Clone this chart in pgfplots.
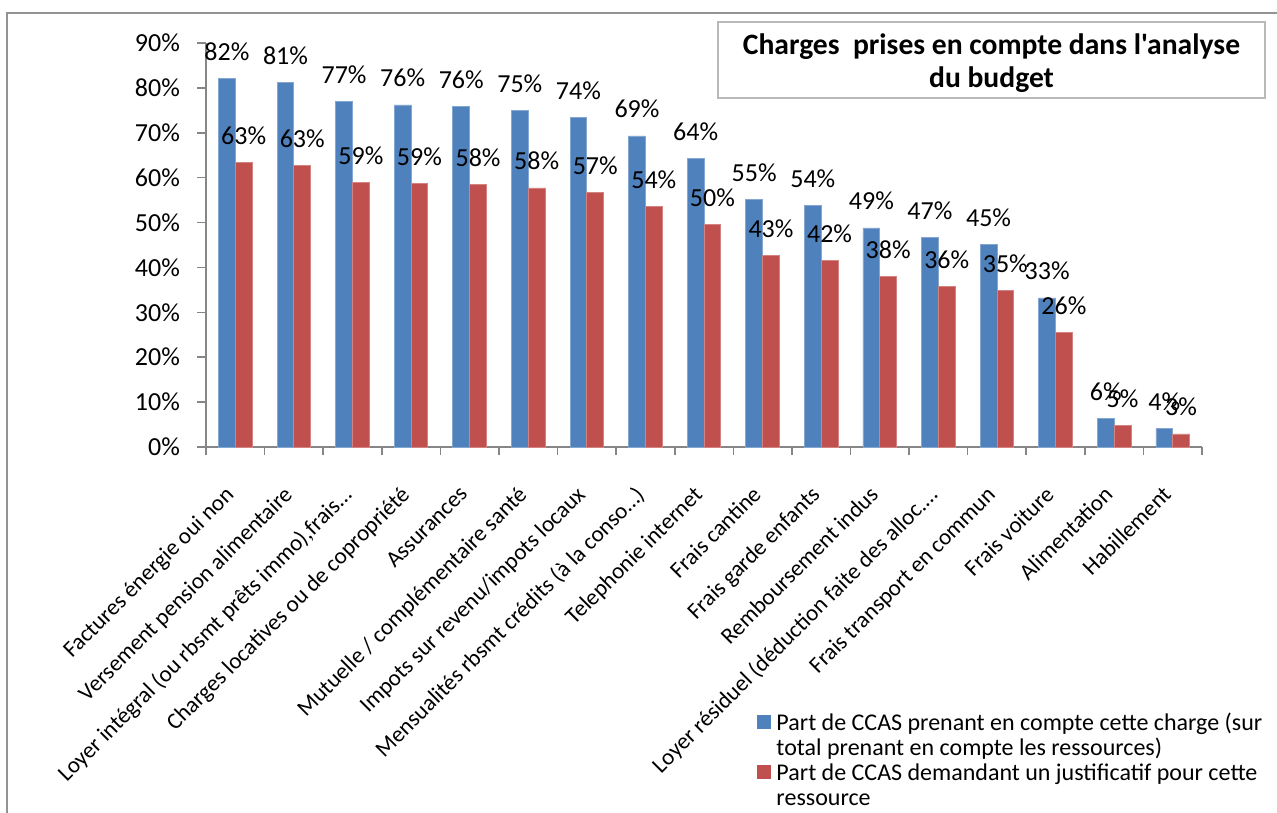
\documentclass[border=0pt]{standalone}
\usepackage{pgfplots}
\pgfplotsset{compat=1.18}
\usepackage{fontspec}
\setmainfont{Carlito}
\newfontfamily\titlefont{Carlito}
\definecolor{cblue}{HTML}{4F81BD}
\definecolor{cred}{HTML}{C0504D}
\definecolor{axgray}{HTML}{868686}

\pgfplotstableread{
x blue red
0 82.2 63.4
1 81.3 62.7
2 77.0 59.0
3 76.2 58.8
4 75.8 58.4
5 74.9 57.7
6 73.5 56.7
7 69.3 53.5
8 64.2 49.6
9 55.1 42.6
10 53.8 41.5
11 48.8 37.9
12 46.6 35.8
13 45.1 34.8
14 33.2 25.6
15 6.3 4.8
16 4.1 2.9
}\datatable

\begin{document}
\begin{tikzpicture}
\begin{scope}[x=0.5pt,y=-0.5pt]
\useasboundingbox (0,0) rectangle (1277,810);
\draw[line width=1pt, color=gray!85] (7,13) rectangle (1400,1000);
\draw[line width=1pt, color=gray!55] (718,22) rectangle (1265,98);
\node[font=\titlefont\fontsize{14.8}{16.5}\selectfont\bfseries, align=center] at (991.5,63) {Charges\ \ prises en compte dans l'analyse\\du budget};
\end{scope}
\begin{axis}[
  at={(103pt,-223.5pt)}, anchor=south west,
  scale only axis, width=498pt, height=202pt,
  xmin=-0.5, xmax=16.5, ymin=0, ymax=90,
  clip=false,
  axis x line*=bottom, axis y line*=left,
  axis line style={axgray, line width=0.8pt, -},
  ybar=0pt, bar width=8.4pt,
  xtick={0,...,16},
  xticklabels={Factures énergie oui non, Versement pension alimentaire, {Loyer intégral (ou rbsmt prêts immo),frais…}, Charges locatives ou de copropriété, Assurances, Mutuelle / complémentaire santé, Impots sur revenu/impots locaux, Mensualités rbsmt crédits (à la conso…), Telephonie internet, Frais cantine, Frais garde enfants, Remboursement indus, Loyer résiduel (déduction faite des alloc.…, Frais transport en commun, Frais voiture, Alimentation, Habillement},
  major x tick style={draw=none},
  minor xtick={-0.5,0.5,...,16.5},
  tick align=outside, major tick length=4.5pt, minor tick length=4pt,
  tick style={axgray, line width=0.8pt},
  ytick={0,10,...,90},
  yticklabel={\pgfmathprintnumber{\tick}\%},
  /pgf/number format/assume math mode=true,
  yticklabel style={font=\fontsize{13}{15}\selectfont, black, xshift=-5pt},
  xticklabel style={font=\fontsize{11.5}{13}\selectfont, black, inner sep=1pt, xshift=-5.8pt, yshift=-12.7pt, rotate=45, anchor=north east},
  nodes near coords={\pgfmathprintnumber[fixed,precision=0]{\pgfplotspointmeta}\%},
  nodes near coords style={font=\fontsize{13}{15}\selectfont, anchor=base, yshift=9pt, black},
  legend style={at={(axis description cs:0.553,-0.656)}, anchor=north west, draw=none, fill=none,
    font=\fontsize{12}{14}\selectfont, row sep=0pt, column sep=2.5pt, inner sep=0pt,
    nodes={inner sep=0.25pt, text height=8.7pt, text depth=3.3pt}},
  legend cell align=left,
]
\addplot[fill=cblue, draw=cblue!70!white, line width=0.4pt, legend image code/.code={\fill[cblue] (0pt,-1.6pt) rectangle (6.5pt,4.9pt);}] table[x=x,y=blue]{\datatable};
\addlegendentry{Part de CCAS prenant en compte cette charge (sur}
\addlegendimage{empty legend}
\addlegendentry{total prenant en compte les ressources)}
\addplot[fill=cred, draw=cred!70!white, line width=0.4pt, legend image code/.code={\fill[cred] (0pt,-1.6pt) rectangle (6.5pt,4.9pt);}] table[x=x,y=red]{\datatable};
\addlegendentry{Part de CCAS demandant un justificatif pour cette}
\addlegendimage{empty legend}
\addlegendentry{ressource}
\end{axis}
\end{tikzpicture}
\end{document}
